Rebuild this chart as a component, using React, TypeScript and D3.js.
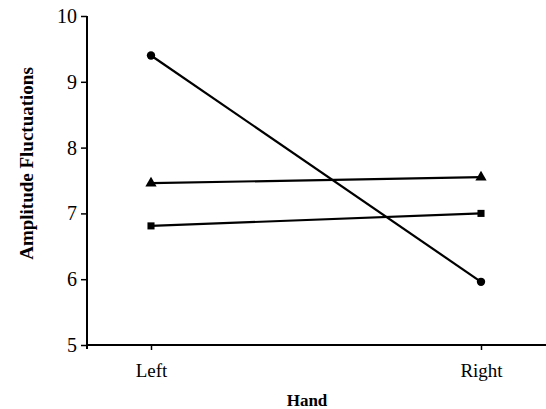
import React, { useEffect, useRef } from "react";
import * as d3 from "d3";

const hands = ["Left", "Right"];
const yTicks = [5, 6, 7, 8, 9, 10];
const circleSeries = [9.4, 5.96];
const triangleSeries = [7.46, 7.55];
const squareSeries = [6.81, 7.0];

const App = () => {
  const ref = useRef<SVGSVGElement | null>(null);

  useEffect(() => {
    const width = 546;
    const height = 409;
    const svg = d3.select(ref.current);
    svg.selectAll("*").remove();
    svg.attr("width", width).attr("height", height);

    const font = "'Liberation Serif', 'Times New Roman', serif";

    const x = d3.scalePoint<string>().domain(hands).range([151, 481]);
    const y = d3.scaleLinear().domain([5, 10]).range([345, 16]);

    // y axis
    const yAxis = svg
      .append("g")
      .attr("transform", "translate(87,0)")
      .call(d3.axisLeft(y).tickValues(yTicks).tickSize(6).tickPadding(4).tickFormat(d3.format("d")));
    yAxis.select(".domain").attr("d", `M0,${y(10)}V${y(5) + 4}`).attr("stroke-width", 2);
    yAxis.selectAll(".tick line").attr("stroke-width", 1.5);
    yAxis
      .selectAll(".tick text")
      .attr("font-family", font)
      .attr("font-size", 20)
      .attr("fill", "#000");

    // x axis
    const xAxis = svg
      .append("g")
      .attr("transform", `translate(0,${y(5)})`)
      .call(d3.axisBottom(x).tickSize(5).tickPadding(14));
    xAxis.select(".domain").attr("d", `M86,0H546`).attr("stroke-width", 2);
    xAxis.selectAll(".tick line").attr("stroke-width", 1.5);
    xAxis
      .selectAll(".tick text")
      .attr("font-family", font)
      .attr("font-size", 19)
      .attr("fill", "#000");

    const line = d3
      .line<number>()
      .x((_, i) => x(hands[i]) as number)
      .y((d) => y(d));

    const series = [
      { values: circleSeries, symbol: d3.symbolCircle, size: 55 },
      { values: triangleSeries, symbol: d3.symbolTriangle, size: 55 },
      { values: squareSeries, symbol: d3.symbolSquare, size: 50 },
    ];

    series.forEach((s) => {
      svg
        .append("path")
        .datum(s.values)
        .attr("fill", "none")
        .attr("stroke", "#000")
        .attr("stroke-width", 2.2)
        .attr("d", line);

      svg
        .selectAll(null)
        .data(s.values)
        .enter()
        .append("path")
        .attr("d", d3.symbol().type(s.symbol).size(s.size)())
        .attr("transform", (d, i) => `translate(${x(hands[i])},${y(d)})`)
        .attr("fill", "#000");
    });

    // axis titles
    svg
      .append("text")
      .attr("transform", `translate(33,${(y(5) + y(10)) / 2 - 17}) rotate(-90)`)
      .attr("text-anchor", "middle")
      .attr("font-family", font)
      .attr("font-size", 19)
      .attr("font-weight", "bold")
      .text("Amplitude Fluctuations");

    svg
      .append("text")
      .attr("x", 307)
      .attr("y", 406)
      .attr("text-anchor", "middle")
      .attr("font-family", font)
      .attr("font-size", 17)
      .attr("font-weight", "bold")
      .text("Hand");
  }, []);

  return (
    <div style={{ position: "absolute", left: 0, top: 0 }}>
      <svg ref={ref}></svg>
    </div>
  );
};

export default App;
